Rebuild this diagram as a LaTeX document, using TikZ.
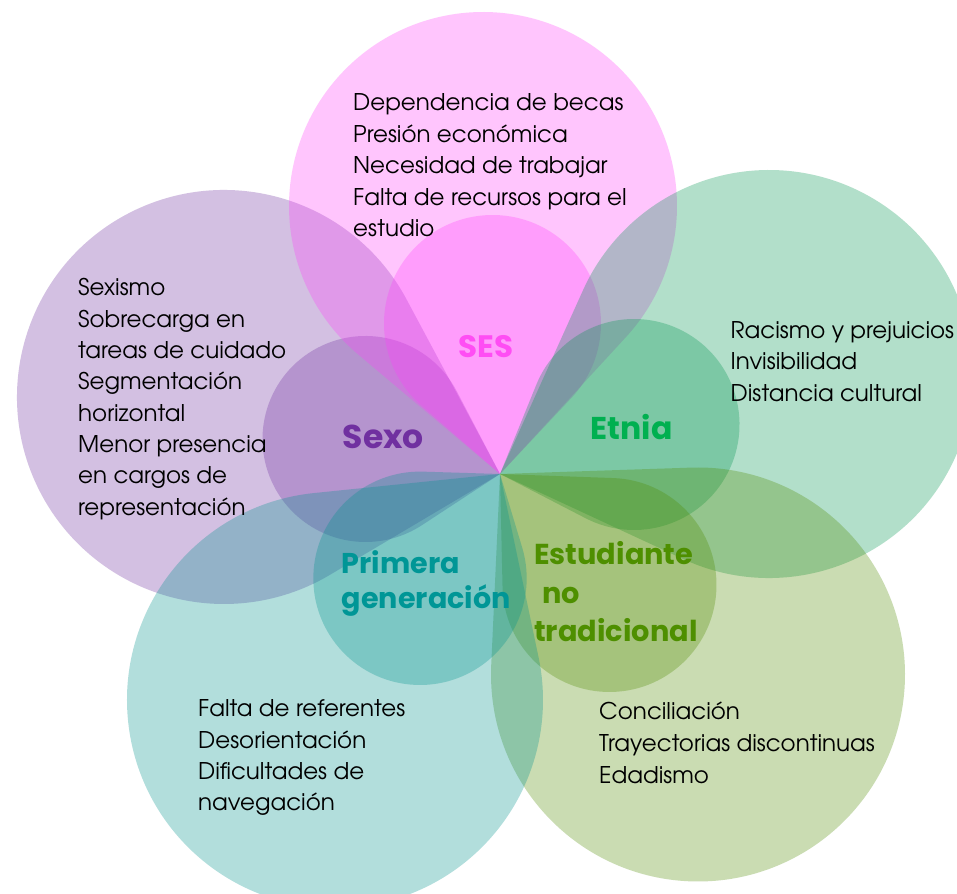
\documentclass[tikz,border=0pt]{standalone}
\usepackage{fontspec}
\setmainfont{TeX Gyre Adventor}
\newfontfamily\lblfont{Poppins}
\usetikzlibrary{calc}
\definecolor{sesC}{RGB}{255,65,250}
\definecolor{sexoC}{RGB}{112,48,160}
\definecolor{etniaC}{RGB}{0,150,80}
\definecolor{primC}{RGB}{0,146,142}
\definecolor{estC}{RGB}{80,140,0}
\definecolor{sesT}{RGB}{255,77,244}
\definecolor{sexoT}{RGB}{112,48,160}
\definecolor{etniaT}{RGB}{0,176,80}
\definecolor{primT}{RGB}{0,150,150}
\definecolor{estT}{RGB}{78,143,0}
\newcommand\tline[1]{\hbox{#1}}
\newcommand\tblock[2]{\vtop{\baselineskip=#1\lineskiplimit=-20pt\lineskip=0pt #2}}
\newcommand\petal[4]{%
  \pgfmathsetmacro\pdd{veclen(#1-500,#2-419)}%
  \pgfmathsetmacro\pth{atan2(#2-419,#1-500)}%
  \pgfmathsetmacro\pal{acos(#3/\pdd)}%
  \pgfmathsetmacro\psa{\pth+180+\pal}%
  \pgfmathsetmacro\pea{\pth+540-\pal}%
  \fill[petalfill=#4] (ctr) -- ($(#1pt,#2pt)+(\psa:#3pt)$) arc[start angle=\psa,end angle=\pea,radius=#3pt] -- cycle;
}
\tikzset{
  petalfill/.style={fill=#1,fill opacity=0.3},
  body/.style={anchor=base west,inner sep=0pt,font=\fontsize{23}{31.5}\selectfont,text=black},
  lbl/.style={anchor=base west,inner sep=0pt,font=\lblfont\bfseries}
}
\begin{document}
\begin{tikzpicture}[x=1pt,y=1pt]
\useasboundingbox (0,0) rectangle (957,893);
\fill[white] (0,0) rectangle (957,893);
\clip (0,0) rectangle (957,893);
\coordinate (ctr) at (500,419);
% Sexo
\petal{224}{496}{207}{sexoC}
\petal{365.5}{454}{103}{sexoC}
% SES
\petal{483}{687}{194}{sesC}
\petal{492.5}{569.5}{108.5}{sesC}
% Etnia
\petal{769}{519}{204}{etniaC}
\petal{634}{468.5}{105.5}{etniaC}
% Estudiante no tradicional
\petal{698}{218.5}{207}{estC}
\petal{609.5}{308}{107}{estC}
% Primera generacion
\petal{335}{193}{208}{primC}
\petal{420}{314.7}{106.7}{primC}
% labels
\node[lbl,text=sesT,font=\lblfont\bfseries\fontsize{31}{31}\selectfont] (lses) at (458.3,535.7) {SES};
\node[lbl,text=sexoT,font=\lblfont\bfseries\fontsize{33}{33}\selectfont] (lsexo) at (342.7,444.7) {Sexo};
\node[lbl,text=etniaT,font=\lblfont\bfseries\fontsize{31.5}{31.5}\selectfont] (letnia) at (590.7,453.7) {Etnia};
\node[lbl,text=primT,font=\lblfont\bfseries\fontsize{28.6}{28.6}\selectfont] (lprim) at (341.7,319.7)
  {\tblock{35pt}{\tline{Primera}\tline{generación}}};
\node[lbl,text=estT,font=\lblfont\bfseries\fontsize{28.8}{28.8}\selectfont] (lest) at (534,328)
  {\tblock{38.3pt}{\tline{Estudiante}\tline{\hspace{8pt}no}\tline{tradicional}}};
% body texts
\node[body] (tses) at (353,782.3)
  {\tblock{31.5pt}{\tline{Dependencia de becas}\tline{Presión económica}\tline{Necesidad de trabajar}\tline{Falta de recursos para el}\tline{estudio}}};
\node[body] (tsexo) at (78,597)
  {\tblock{31.3pt}{\tline{Sexismo}\tline{Sobrecarga en}\tline{tareas de cuidado}\tline{Segmentación}\tline{horizontal}\tline{Menor presencia}\tline{en cargos de}\tline{representación}}};
\node[body] (tetnia) at (730.5,554.7)
  {\tblock{31.7pt}{\tline{Racismo y prejuicios}\tline{Invisibilidad}\tline{Distancia cultural}}};
\node[body] (tprim) at (198,176.3)
  {\tblock{31.4pt}{\tline{Falta de referentes}\tline{Desorientación}\tline{Dificultades de}\tline{navegación}}};
\node[body] (test) at (599,173)
  {\tblock{31.7pt}{\tline{Conciliación}\tline{Trayectorias discontinuas}\tline{Edadismo}}};
\end{tikzpicture}
\end{document}
